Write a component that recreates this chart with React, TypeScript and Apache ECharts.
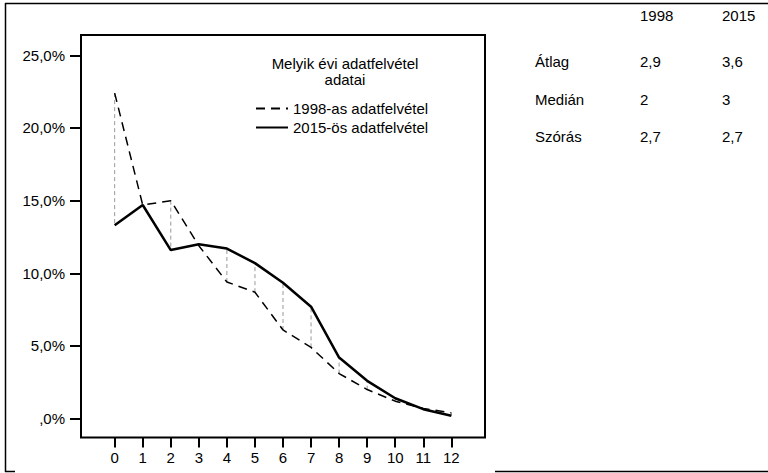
import React, { useEffect, useRef } from "react";
import * as echarts from "echarts";

const categories = [0, 1, 2, 3, 4, 5, 6, 7, 8, 9, 10, 11, 12];
const values1998 = [22.4, 14.7, 15.0, 11.9, 9.4, 8.7, 6.1, 4.9, 3.1, 2.0, 1.2, 0.7, 0.4];
const values2015 = [13.3, 14.7, 11.6, 12.0, 11.7, 10.7, 9.35, 7.7, 4.2, 2.6, 1.4, 0.65, 0.2];
const seriesNames = ["1998-as adatfelvétel", "2015-ös adatfelvétel"];
const yTickValues = [0, 5, 10, 15, 20, 25];
const yTickLabels = [",0%", "5,0%", "10,0%", "15,0%", "20,0%", "25,0%"];
const legendTitle = "Melyik évi adatfelvétel\nadatai";
const tableHeader = ["1998", "2015"];
const tableRows = ["Átlag", "Medián", "Szórás"];
const stats1998 = ["2,9", "2", "2,7"];
const stats2015 = ["3,6", "3", "2,7"];

const FONT = '"Liberation Sans", Arial, sans-serif';

export default function App() {
  const ref = useRef<HTMLDivElement>(null);
  useEffect(() => {
    if (!ref.current) return;
    const chart = echarts.init(ref.current, null, { renderer: "svg" });
    const rowY = [61.5, 99, 136.5];
    const graphics: any[] = [
      { type: "line", shape: { x1: 5, y1: 3.5, x2: 768, y2: 3.5 }, style: { stroke: "#000", lineWidth: 1.5 } },
      { type: "line", shape: { x1: 5.5, y1: 3, x2: 5.5, y2: 472 }, style: { stroke: "#000", lineWidth: 1.5 } },
      { type: "line", shape: { x1: 5, y1: 471.5, x2: 15, y2: 471.5 }, style: { stroke: "#000", lineWidth: 1.5 } },
      { type: "line", shape: { x1: 495, y1: 471.5, x2: 768, y2: 471.5 }, style: { stroke: "#000", lineWidth: 1.5 } },
      {
        type: "text",
        style: {
          x: 345, y: 71, text: legendTitle, align: "center", verticalAlign: "middle",
          font: `15px ${FONT}`, lineHeight: 16, fill: "#000",
        },
      },
      { type: "text", style: { x: 640, y: 15, text: tableHeader[0], verticalAlign: "middle", font: `15px ${FONT}`, fill: "#000" } },
      { type: "text", style: { x: 722, y: 15, text: tableHeader[1], verticalAlign: "middle", font: `15px ${FONT}`, fill: "#000" } },
    ];
    tableRows.forEach((r, i) => {
      graphics.push({ type: "text", style: { x: 535, y: rowY[i], text: r, verticalAlign: "middle", font: `15px ${FONT}`, fill: "#000" } });
      graphics.push({ type: "text", style: { x: 640, y: rowY[i], text: stats1998[i], verticalAlign: "middle", font: `15px ${FONT}`, fill: "#000" } });
      graphics.push({ type: "text", style: { x: 722, y: rowY[i], text: stats2015[i], verticalAlign: "middle", font: `15px ${FONT}`, fill: "#000" } });
    });

    chart.setOption({
      animation: false,
      backgroundColor: "#fff",
      textStyle: { fontFamily: FONT },
      grid: {
        left: 81, top: 35, right: 283, bottom: 35.5, show: true,
        borderColor: "#000", borderWidth: 2, backgroundColor: "transparent",
      },
      legend: {
        data: seriesNames,
        orient: "vertical",
        left: 250,
        top: 95,
        itemWidth: 32,
        itemHeight: 14,
        itemGap: 2,
        itemStyle: { opacity: 0 },
        textStyle: { fontSize: 15, color: "#000", fontFamily: FONT, lineHeight: 17 },
        selectedMode: false,
      },
      xAxis: {
        type: "value",
        min: -1.2,
        max: 13.2,
        axisLine: { show: false, onZero: false },
        splitLine: { show: false },
        axisTick: { show: true, length: 10, customValues: categories, lineStyle: { color: "#000", width: 2 } },
        axisLabel: { customValues: categories, color: "#000", fontSize: 15, margin: 12, fontFamily: FONT },
      },
      yAxis: {
        type: "value",
        min: -1.3,
        max: 26.4,
        axisLine: { show: false, onZero: false },
        splitLine: { show: false },
        axisTick: { show: true, length: 11, customValues: yTickValues, lineStyle: { color: "#000", width: 2 } },
        axisLabel: {
          customValues: yTickValues,
          color: "#000",
          fontSize: 15,
          margin: 16,
          fontFamily: FONT,
          formatter: (v: number) => {
            const idx = yTickValues.indexOf(Math.round(v));
            return idx >= 0 ? yTickLabels[idx] : "";
          },
        },
      },
      series: [
        {
          type: "custom",
          name: "drop",
          silent: true,
          z: 1,
          data: categories.map((c, i) => [c, values1998[i], values2015[i]]),
          encode: { x: 0, y: [1, 2] },
          renderItem: (params: any, api: any) => {
            const p1 = api.coord([api.value(0), api.value(1)]);
            const p2 = api.coord([api.value(0), api.value(2)]);
            return {
              type: "line",
              shape: { x1: p1[0], y1: p1[1], x2: p2[0], y2: p2[1] },
              style: { stroke: "#999", lineWidth: 1, lineDash: [4, 3] },
            };
          },
        },
        {
          type: "line",
          name: seriesNames[0],
          z: 2,
          symbol: "none",
          data: categories.map((c, i) => [c, values1998[i]]),
          lineStyle: { color: "#000", width: 1.5, type: [9, 6] },
          itemStyle: { color: "#000" },
        },
        {
          type: "line",
          name: seriesNames[1],
          z: 3,
          symbol: "none",
          data: categories.map((c, i) => [c, values2015[i]]),
          lineStyle: { color: "#000", width: 2.5 },
          itemStyle: { color: "#000" },
        },
      ],
      graphic: graphics,
    });
    return () => chart.dispose();
  }, []);
  return (
    <div
      ref={ref}
      style={{ position: "fixed", left: 0, top: 0, width: 768, height: 473, background: "#fff" }}
    />
  );
}
